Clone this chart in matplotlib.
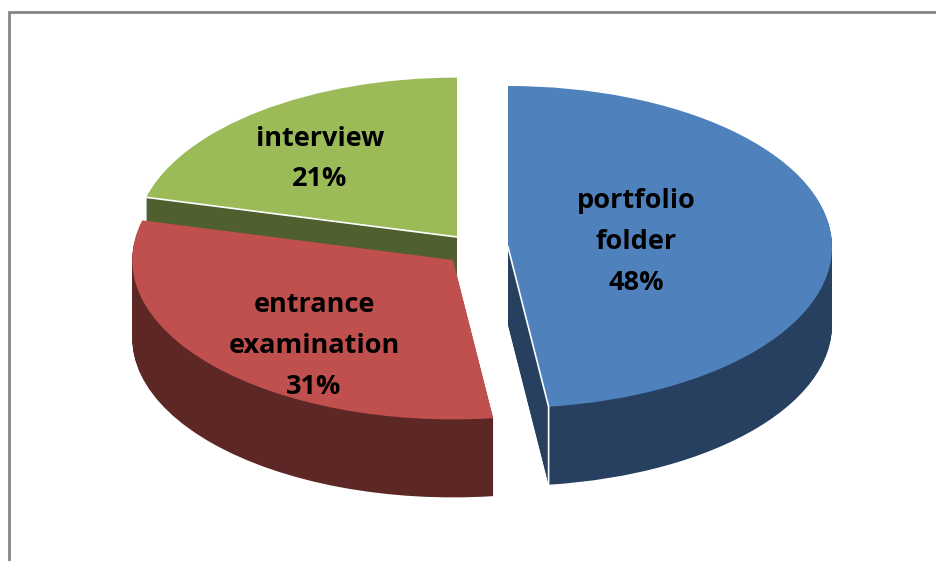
import matplotlib
matplotlib.use('Agg')
import matplotlib.pyplot as plt
import numpy as np

labels = ['portfolio\nfolder', 'entrance\nexamination', 'interview']
values = [48, 31, 21]
colors = ['#4F81BD', '#C0504D', '#9BBB59']
dark_colors = ['#27405F', '#5D2725', '#4F5F2D']

W, H = 937, 561
RX, RY = 324, 161
DEPTH = 78
# where each pulled out slice has its tip, in pixels
tips = [(508, 247), (453, 260), (457, 237)]
radii = [1, 0.99, 0.99]
label_pos = [(636, 242), (314, 346), (320, 159)]

fig = plt.figure(figsize=(W / 100, H / 100), dpi=100, facecolor='white')
ax = fig.add_axes([0, 0, 1, 1])


def draw_slice(i, center, color):
    wedges, _ = ax.pie(values, center=center, radius=radii[i], startangle=90,
                       counterclock=False, colors=[color] * len(values),
                       wedgeprops=dict(edgecolor='none', linewidth=0))
    for j, w in enumerate(wedges):
        if j != i:
            w.remove()
    return wedges[i]


dy = DEPTH / RY
for i in [2, 1, 0]:
    cx = tips[i][0] / RX
    cy = (H - tips[i][1]) / RY
    # side wall is just the slice stacked downwards
    for d in range(DEPTH, 0, -1):
        draw_slice(i, (cx, cy - d / RY), dark_colors[i])
    top = draw_slice(i, (cx, cy), colors[i])
    # thin white edge where the top meets the cut face
    if i == 0:
        a = np.deg2rad(top.theta1)
        px, py = cx + radii[i] * np.cos(a), cy + radii[i] * np.sin(a)
        ax.plot([cx, px, px], [cy, py, py - dy], color='white', lw=1.2, solid_joinstyle='miter')
    if i == 2:
        a = np.deg2rad(top.theta2)
        px, py = cx + radii[i] * np.cos(a), cy + radii[i] * np.sin(a)
        ax.plot([cx, px], [cy, py], color='white', lw=1.2)

ax.set_aspect('auto')
ax.set_xlim(0, W / RX)
ax.set_ylim(0, H / RY)
ax.axis('off')

for lab, v, (x, y) in zip(labels, values, label_pos):
    fig.text(x / W, 1 - y / H, lab + '\n%d%%' % v, ha='center', va='center',
             fontsize=19.5, fontweight='bold', family='Open Sans', color='black',
             linespacing=1.75)

# chart frame, only top and left fall inside the crop
fig.add_artist(plt.Line2D([9.5 / W, 9.5 / W, 1], [0, 1 - 11.5 / H, 1 - 11.5 / H],
                          color='#868686', lw=2, solid_joinstyle='miter'))

fig.savefig('out.png', dpi=100)
